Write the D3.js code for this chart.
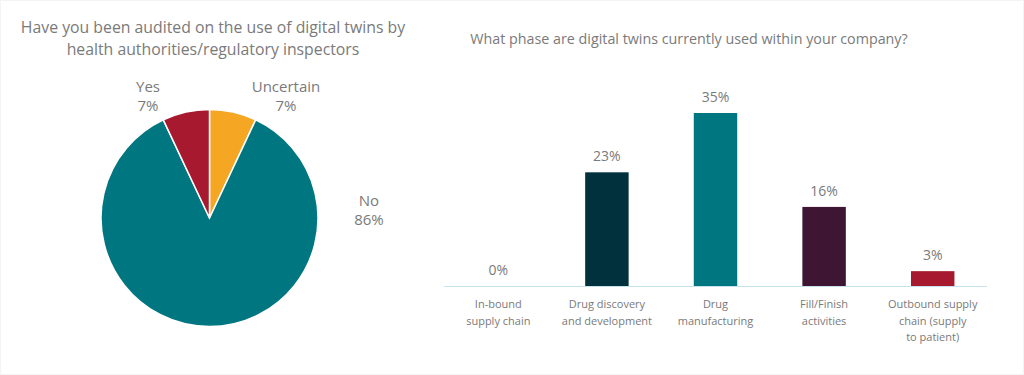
<!DOCTYPE html>
<html><head><meta charset="utf-8">
<script src="https://cdn.jsdelivr.net/npm/d3@7"></script>
<style>body{margin:0;background:#fff}svg{display:block}text{font-family:"Open Sans",sans-serif;fill:#7a7a7a}</style>
</head><body><svg id="c" width="1024" height="375"></svg>
<script>
const pieLabels = ["Uncertain", "No", "Yes"];
const pieValues = [7, 86, 7];
const pieColors = ["#F5A623", "#007681", "#A6192E"];
const pieTitle = ["Have you been audited on the use of digital twins by", "health authorities/regulatory inspectors"];

const barCategories = [["In-bound","supply chain"],["Drug discovery","and development"],["Drug","manufacturing"],["Fill/Finish","activities"],["Outbound supply","chain (supply","to patient)"]];
const barValues = [0, 23, 35, 16, 3];
const barColors = ["#00313C", "#00313C", "#007681", "#3F1534", "#A6192E"];
const barTitle = "What phase are digital twins currently used within your company?";

const svg = d3.select("#c");
svg.append("rect").attr("x",0.5).attr("y",0.5).attr("width",1023).attr("height",374).attr("fill","none").attr("stroke","#f4f4f4");

// Pie
svg.append("text").attr("x",213).attr("text-anchor","middle").attr("font-size",15.8)
  .selectAll("tspan").data(pieTitle).join("tspan").attr("x",213).attr("y",(d,i)=>33+i*22).text(d=>d);
const cx=209.5, cy=218, r=108.5;
const pie = d3.pie().sort(null).value(d=>d)(pieValues);
const arc = d3.arc().innerRadius(0).outerRadius(r);
const g = svg.append("g").attr("transform",`translate(${cx},${cy})`);
g.selectAll("path").data(pie).join("path").attr("d",arc).attr("fill",(d,i)=>pieColors[i]).attr("stroke","#fff").attr("stroke-width",1.5);
const pieLabelPos = [[286,92],[369,206],[148,92]];
pieLabels.forEach((l,i)=>{
  const t = svg.append("text").attr("text-anchor","middle").attr("font-size",15);
  t.append("tspan").attr("x",pieLabelPos[i][0]).attr("y",pieLabelPos[i][1]).text(l);
  t.append("tspan").attr("x",pieLabelPos[i][0]).attr("y",pieLabelPos[i][1]+19).text(pieValues[i]+"%");
});

// Bars
svg.append("text").attr("x",689).attr("y",44).attr("text-anchor","middle").attr("font-size",14.3).text(barTitle);
const x = d3.scaleBand().domain(d3.range(barValues.length)).range([444,987]).paddingInner(0.6).paddingOuter(0.3);
const y = d3.scaleLinear().domain([0,35]).range([286,113]);
svg.append("g").selectAll("rect").data(barValues).join("rect")
  .attr("x",(d,i)=>x(i)).attr("width",x.bandwidth()).attr("y",d=>y(d)).attr("height",d=>y(0)-y(d)).attr("fill",(d,i)=>barColors[i]);
const axis = svg.append("g").attr("transform",`translate(0,${y(0)})`).call(d3.axisBottom(x).tickSize(0).tickFormat(""));
axis.select(".domain").attr("stroke","#C5E3EC").attr("d","M444,0.5H987");
svg.append("g").selectAll("text").data(barValues).join("text")
  .attr("x",(d,i)=>x(i)+x.bandwidth()/2).attr("y",d=>y(d)-11).attr("text-anchor","middle").attr("font-size",14).text(d=>d+"%");
barCategories.forEach((lines,i)=>{
  const t = svg.append("text").attr("text-anchor","middle").attr("font-size",11);
  lines.forEach((l,j)=>t.append("tspan").attr("x",x(i)+x.bandwidth()/2).attr("y",308+j*16.5).text(l));
});
</script></body></html>
